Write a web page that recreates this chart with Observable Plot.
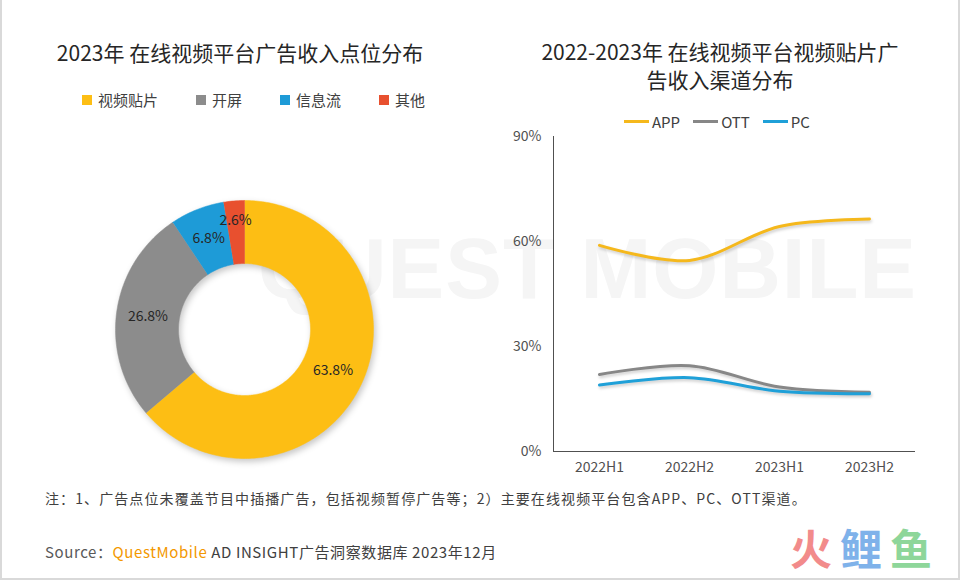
<!DOCTYPE html>
<html>
<head>
<meta charset="utf-8">
<script src="https://cdn.jsdelivr.net/npm/d3@7"></script>
<script src="https://cdn.jsdelivr.net/npm/@observablehq/plot@0.6"></script>
<style>
  body { margin: 0; background: #fff; }
  #page { position: relative; width: 960px; height: 580px; overflow: hidden; background: #fff;
          font-family: "Noto Sans CJK SC", "Noto Sans", sans-serif; color: #404040; font-weight: 400; }
  .abs { position: absolute; }
  .title { font-size: 21px; line-height: 28px; color: #262626; text-align: center; font-weight: 400; }
  .legend { display: flex; align-items: center; font-size: 15px; color: #404040; white-space: nowrap; }
  .sw { display: inline-block; width: 10px; height: 10px; margin-right: 6px; }
  .ln { display: inline-block; width: 25px; height: 3px; margin-right: 3px; }
  #border { position: absolute; left: 0; top: 0; width: 960px; height: 580px; box-sizing: border-box;
            border: 2px solid #d9d9d9; border-top: none; pointer-events: none; }
  #watermark { position: absolute; right: 43px; top: 226px; font-family: "Liberation Sans", Arial, sans-serif;
               font-size: 85px; line-height: 1; font-weight: 700; letter-spacing: 1px; color: #f5f5f5; white-space: nowrap; }
</style>
</head>
<body>
<div id="page">
  <div id="watermark">QUEST MOBILE</div>

  <div class="abs title" style="left:0; top:38px; width:480px;">2023年 在线视频平台广告收入点位分布</div>
  <div class="abs title" style="left:480px; top:37px; width:480px;">2022-2023年 在线视频平台视频贴片广<br>告收入渠道分布</div>

  <div id="legendL" class="abs legend" style="left:82px; top:89px;"></div>
  <div id="legendR" class="abs legend" style="left:624px; top:111px;"></div>

  <div id="donut" class="abs" style="left:94px; top:179px;"></div>
  <div id="lines" class="abs" style="left:490px; top:126px;"></div>

  <div class="abs" style="left:45px; top:488px; font-size:14px; letter-spacing:1.1px; color:#404040; white-space:nowrap;">注：1、广告点位未覆盖节目中插播广告，包括视频暂停广告等；2）主要在线视频平台包含APP、PC、OTT渠道。</div>
  <div class="abs" style="left:45px; top:541px; font-size:15px; letter-spacing:0.6px; color:#404040; white-space:nowrap;"><span style="color:#595959">Source：</span><span style="color:#F39800">QuestMobile</span> AD INSIGHT广告洞察数据库 2023年12月</div>

  <div class="abs" style="left:790px; top:522px; font-size:42px; line-height:50px; font-weight:700; letter-spacing:8px; white-space:nowrap;"><span style="color:#F28B8B">火</span><span style="color:#7FB2EA">鲤</span><span style="color:#8ED69A">鱼</span></div>

  <div id="border"></div>
</div>

<script>
// ---- Data ----
const categories = ["视频贴片", "开屏", "信息流", "其他"];
const shares = [0.638, 0.268, 0.068, 0.026];
const catColors = ["#FDBE14", "#8C8C8C", "#1E9BD7", "#E8502F"];

const periods = ["2022H1", "2022H2", "2023H1", "2023H2"];
const channels = ["APP", "OTT", "PC"];
const appShare = [0.589, 0.546, 0.643, 0.664];
const ottShare = [0.220, 0.245, 0.184, 0.169];
const pcShare  = [0.190, 0.211, 0.172, 0.165];
const channelColors = ["#F5B81C", "#878787", "#1FA0D8"];
const yTicks = [0, 0.3, 0.6, 0.9];

// ---- Legends ----
const legL = document.getElementById("legendL");
categories.forEach((c, i) => {
  const item = document.createElement("span");
  item.style.display = "inline-flex"; item.style.alignItems = "center";
  item.style.marginRight = i < categories.length - 1 ? "38px" : "0";
  item.innerHTML = `<span class="sw" style="background:${catColors[i]}"></span>${c}`;
  legL.append(item);
});
const legR = document.getElementById("legendR");
channels.forEach((c, i) => {
  const item = document.createElement("span");
  item.style.display = "inline-flex"; item.style.alignItems = "center";
  item.style.marginRight = i < channels.length - 1 ? "13px" : "0";
  item.innerHTML = `<span class="ln" style="background:${channelColors[i]}"></span>${c}`;
  legR.append(item);
});

// ---- Donut ----
const R1 = 129, R0 = 66;
const arcs = d3.pie().sort(null).value(d => d)(shares);
const ring = [];
arcs.forEach((a, i) => {
  const n = Math.max(2, Math.ceil((a.endAngle - a.startAngle) / (Math.PI / 180)));
  const outer = [], inner = [];
  for (let k = 0; k <= n; k++) {
    const t = a.startAngle + (a.endAngle - a.startAngle) * k / n;
    outer.push({cat: categories[i], x: R1 * Math.sin(t), y: R1 * Math.cos(t)});
    inner.push({cat: categories[i], x: R0 * Math.sin(t), y: R0 * Math.cos(t)});
  }
  ring.push(...outer, ...inner.reverse());
});
const labels = arcs.map((a, i) => {
  const m = (a.startAngle + a.endAngle) / 2;
  const r = (R0 + R1) / 2 + (shares[i] < 0.05 ? 12 : 0);
  return {x: r * Math.sin(m), y: r * Math.cos(m), text: (shares[i] * 100).toFixed(1) + "%"};
});

const donut = Plot.plot({
  width: 300, height: 300,
  margin: 0,
  x: {domain: [-150, 150], axis: null},
  y: {domain: [-150, 150], axis: null},
  color: {domain: categories, range: catColors},
  style: {background: "transparent", overflow: "visible", fontFamily: "'Noto Sans CJK SC', sans-serif"},
  marks: [
    Plot.line(ring, {x: "x", y: "y", z: "cat", fill: "cat", stroke: "cat", strokeWidth: 0.5, curve: "linear"}),
    Plot.text(labels, {x: "x", y: "y", text: "text", fontSize: 14, fill: "#262626"})
  ]
});
donut.querySelectorAll('g[aria-label="line"]').forEach(g => g.style.filter = "drop-shadow(2px 3px 3px rgba(0,0,0,0.22))");
document.getElementById("donut").append(donut);

// ---- Lines ----
const series = [appShare, ottShare, pcShare];
const rows = [];
channels.forEach((c, j) => periods.forEach((p, i) => rows.push({channel: c, period: p, value: series[j][i]})));

const lines = Plot.plot({
  width: 440, height: 360,
  marginLeft: 63, marginTop: 10, marginBottom: 35, marginRight: 16,
  x: {type: "point", domain: periods, padding: 0.5, label: null, tickSize: 0, tickPadding: 11, line: true},
  y: {domain: [0, 0.9], ticks: yTicks, tickFormat: d => Math.round(d * 100) + "%", label: null, tickSize: 0, tickPadding: 12, line: true},
  color: {domain: channels, range: channelColors},
  style: {background: "transparent", overflow: "visible", fontSize: "14px", color: "#505050", fontFamily: "'Noto Sans CJK SC', sans-serif"},
  marks: [
    Plot.line(rows, {x: "period", y: "value", z: "channel", stroke: "channel", strokeWidth: 3, curve: "catmull-rom"})
  ]
});
lines.querySelectorAll('g[aria-label="line"]').forEach(g => g.style.filter = "drop-shadow(1px 2px 1.5px rgba(0,0,0,0.2))");
document.getElementById("lines").append(lines);
</script>
</body>
</html>
